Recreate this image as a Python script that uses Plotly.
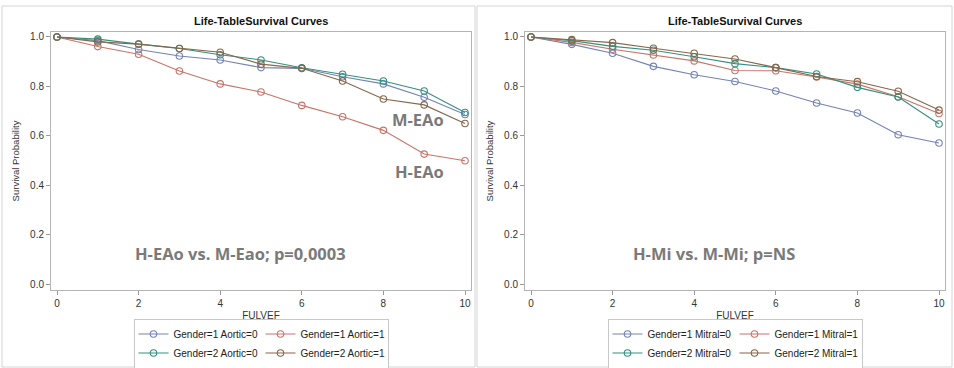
import plotly.graph_objects as go

W, H = 954, 368

# ---------------- data ----------------
years = [0, 1, 2, 3, 4, 5, 6, 7, 8, 9, 10]

# Left panel: Aortic
g1_aortic0 = [1.0, 0.985, 0.949, 0.923, 0.907, 0.876, 0.873, 0.839, 0.810, 0.756, 0.686]
g1_aortic1 = [1.0, 0.961, 0.930, 0.862, 0.810, 0.777, 0.723, 0.677, 0.622, 0.526, 0.499]
g2_aortic0 = [1.0, 0.991, 0.971, 0.953, 0.928, 0.907, 0.875, 0.849, 0.822, 0.781, 0.694]
g2_aortic1 = [1.0, 0.980, 0.971, 0.953, 0.938, 0.890, 0.873, 0.822, 0.749, 0.725, 0.650]

# Right panel: Mitral
g1_mitral0 = [1.0, 0.970, 0.934, 0.881, 0.847, 0.820, 0.781, 0.733, 0.692, 0.604, 0.571]
g1_mitral1 = [1.0, 0.978, 0.950, 0.927, 0.903, 0.864, 0.863, 0.838, 0.809, 0.758, 0.690]
g2_mitral0 = [1.0, 0.985, 0.962, 0.946, 0.920, 0.892, 0.876, 0.850, 0.796, 0.757, 0.648]
g2_mitral1 = [1.0, 0.989, 0.977, 0.954, 0.934, 0.911, 0.876, 0.840, 0.819, 0.780, 0.704]

left_names = ["Gender=1 Aortic=0", "Gender=1 Aortic=1", "Gender=2 Aortic=0", "Gender=2 Aortic=1"]
right_names = ["Gender=1 Mitral=0", "Gender=1 Mitral=1", "Gender=2 Mitral=0", "Gender=2 Mitral=1"]

x_ticks = [0, 2, 4, 6, 8, 10]
y_ticks = [0.0, 0.2, 0.4, 0.6, 0.8, 1.0]

title_text = "Life-TableSurvival Curves"
x_title = "FULVEF"
y_title = "Survival Probability"
left_note = "H-EAo vs. M-Eao; p=0,0003"
right_note = "H-Mi vs. M-Mi; p=NS"
label_m = "M-EAo"
label_h = "H-EAo"

colors = ["#7482b6", "#c97468", "#33907f", "#87674a"]

# --------------- helpers ---------------
def px(xp):
    return xp / W

def py(yp):
    return 1 - yp / H

fig = go.Figure()

left_series = [g1_aortic0, g1_aortic1, g2_aortic0, g2_aortic1]
right_series = [g1_mitral0, g1_mitral1, g2_mitral0, g2_mitral1]
groups = ["c1", "c2", "c1", "c2"]

for i, (name, ys) in enumerate(zip(left_names, left_series)):
    fig.add_trace(go.Scatter(
        x=years, y=ys, name=name, mode="lines+markers",
        line=dict(color=colors[i], width=1.1),
        marker=dict(symbol="circle-open", size=6.5, color=colors[i], line=dict(width=1.1)),
        xaxis="x", yaxis="y", legend="legend", legendgroup="L" + groups[i],
    ))
for i, (name, ys) in enumerate(zip(right_names, right_series)):
    fig.add_trace(go.Scatter(
        x=years, y=ys, name=name, mode="lines+markers",
        line=dict(color=colors[i], width=1.1),
        marker=dict(symbol="circle-open", size=6.5, color=colors[i], line=dict(width=1.1)),
        xaxis="x2", yaxis="y2", legend="legend2", legendgroup="R" + groups[i],
    ))

ydom = [py(290), py(32)]
axis_common = dict(
    showline=True, mirror=True, linecolor="#b4b4b4", linewidth=1,
    showgrid=False, zeroline=False, ticks="outside", ticklen=4, automargin=False,
    tickcolor="#9a9a9a", tickfont=dict(family="Liberation Sans, Arial", size=10, color="#333333"),
)
xr = [-0.147, 10.147]
yr = [-0.024, 1.02]
xt_font = dict(family="Liberation Sans, Arial", size=10, color="#333333")
yt_font = dict(family="Liberation Sans, Arial", size=9.5, color="#333333")

fig.update_layout(
    width=W, height=H, margin=dict(l=0, r=0, t=0, b=0, autoexpand=False),
    paper_bgcolor="white", plot_bgcolor="white",
    showlegend=True,
    xaxis=dict(domain=[px(51), px(471)], range=xr, tickvals=x_ticks, anchor="y",
               title=dict(text=x_title, standoff=3, font=xt_font), **axis_common),
    yaxis=dict(domain=ydom, range=yr, tickvals=y_ticks, tickformat=".1f", anchor="x",
               title=dict(text=y_title, standoff=8, font=yt_font), **axis_common),
    xaxis2=dict(domain=[px(525), px(945)], range=xr, tickvals=x_ticks, anchor="y2",
                title=dict(text=x_title, standoff=3, font=xt_font), **axis_common),
    yaxis2=dict(domain=ydom, range=yr, tickvals=y_ticks, tickformat=".1f", anchor="x2",
                title=dict(text=y_title, standoff=8, font=yt_font), **axis_common),
)

legend_common = dict(
    orientation="h", traceorder="grouped", tracegroupgap=0,
    bordercolor="#c8c8c8", borderwidth=1, bgcolor="white",
    font=dict(family="Liberation Sans, Arial", size=10, color="#222222"),
    xanchor="center", yanchor="middle", itemwidth=30,
    entrywidth=82, entrywidthmode="pixels",
)
fig.update_layout(
    legend=dict(x=px(261), y=py(343.5), **legend_common),
    legend2=dict(x=px(735), y=py(343.5), **legend_common),
)

# Titles
for cx in (261, 735):
    fig.add_annotation(x=px(cx), y=py(21), xref="paper", yref="paper", text="<b>" + title_text + "</b>",
                       xanchor="center", yanchor="middle",
                       showarrow=False, font=dict(family="Liberation Sans, Arial", size=11, color="#111111"))

note_font = dict(family="Open Sans, Noto Sans", size=16.5, color="#7a7a7a")
for txt, cx, cy in ((left_note, 240, 253), (right_note, 714, 253), (label_m, 418, 119), (label_h, 419, 171)):
    fig.add_annotation(x=px(cx), y=py(cy), xref="paper", yref="paper", text="<b>" + txt + "</b>",
                       xanchor="center", yanchor="middle", showarrow=False, font=note_font)

# Panel frames
for x0, x1 in ((2, 475), (477, 952)):
    fig.add_shape(type="rect", xref="paper", yref="paper", x0=px(x0), x1=px(x1), y0=py(367), y1=py(6),
                  line=dict(color="#d4d4d4", width=1), fillcolor="rgba(0,0,0,0)", layer="below")

fig.write_html("out.html", config={"displayModeBar": False},
               post_script="document.body.style.margin='0';document.body.style.padding='0';")
